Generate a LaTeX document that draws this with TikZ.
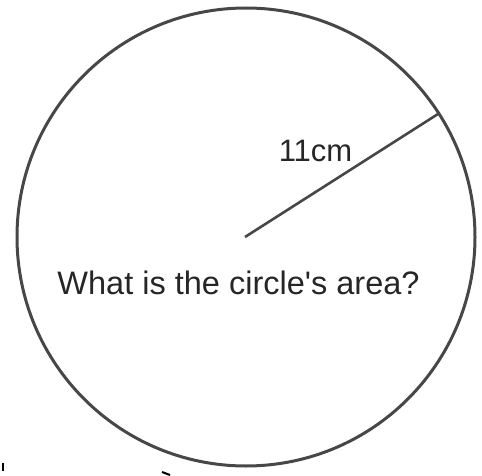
\documentclass[tikz,border=0pt]{standalone}
\usepackage{fontspec}
\setmainfont{Liberation Sans}[Ligatures=TeXOff]
\begin{document}
\begin{tikzpicture}[x=1pt,y=-1pt,
  rim/.style={draw=black!72,line width=3pt},
  lbl/.style={inner sep=0pt,anchor=base,text=black!85}]
\useasboundingbox (0,0) rectangle (482,476);
\coordinate (O) at (246,237);
\draw[rim] (O) circle (229);
\coordinate (C) at (245,237);
\coordinate (R) at (438,114);
\draw[rim,line width=2.6pt] (C) -- (R);
\node[lbl,font=\fontsize{31}{31}\selectfont] (len) at (315.5,162) {11cm};
\node[lbl,font=\fontsize{32.5}{32.5}\selectfont] (q) at (238.5,294) {What is the circle's area?};
% small cropped marks at the bottom edge
\coordinate (m1a) at (3,463);
\coordinate (m1b) at (3,471);
\draw[black,line width=2pt] (m1a) -- (m1b);
\coordinate (m2a) at (162,472);
\coordinate (m2b) at (170,475);
\draw[black,line width=2pt] (m2a) -- (m2b);
\end{tikzpicture}
\end{document}
